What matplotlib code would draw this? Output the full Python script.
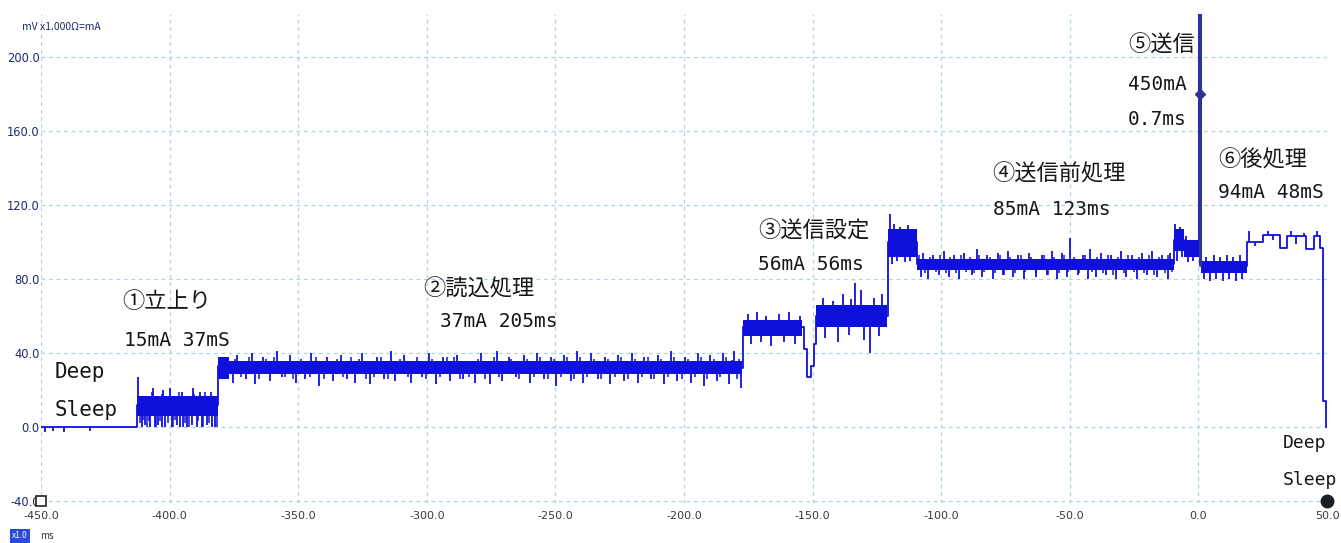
import numpy as np
import matplotlib
matplotlib.use("Agg")
import matplotlib.pyplot as plt

plt.rcParams['font.family'] = ['Noto Sans CJK JP', 'DejaVu Sans']

# ---- current trace (mA) over time (ms) ----
# mean level of the trace, step-wise (value holds until the next time)
step_t = [-450.0, -412.5, -381.0, -377.0, -177.0, -153.5, -152.0, -150.5, -149.5, -148.5,
          -120.5, -109.5, -9.5, -5.5, 0.2, 0.9, 18.9, 25.2, 31.7, 34.4, 42.0, 44.9, 47.3,
          48.5, 49.6, 50.0]
step_v = [0, 12, 33, 32, 54, 42, 27, 33, 45, 60,
          100, 88, 101, 96, 450, 87, 100, 104, 97, 103, 96, 103, 97,
          14, 0, 0]

# dense noise band of each phase
band_start = [-412.5, -381.0, -377.0, -177.0, -148.5, -120.5, -109.5, -9.5, -5.5, 0.9]
band_end   = [-381.0, -377.0, -177.5, -154.0, -121.0, -109.5, -9.5, -5.5, 0.2, 18.9]
band_lo    = [6, 26, 28.5, 49, 54, 92, 85, 95, 92, 83]
band_hi    = [17, 38, 35.5, 58, 66, 107, 91, 107, 101, 90]

# large glitches: time and tip value
spike_t = [-448.5, -445.5, -441.0, -431.0,
           # (1) start-up
           -412.4, -410.8, -409.5, -407.6, -406.5, -405.7, -404.5, -403.1, -402.5, -401.8,
           -399.8, -399.2, -397.2, -396.0, -395.0, -394.7, -393.4, -391.4, -391.0, -389.5,
           -388.0, -387.5, -385.6, -384.0, -383.6, -382.3,
           # (2) reading
           -375.5, -370.2, -366.8, -361.0, -356.4, -350.9, -347.3, -341.8, -336.5, -331.2,
           -327.9, -322.0, -316.6, -312.3, -306.1, -301.7, -296.4, -291.0, -285.8, -281.1,
           -275.3, -270.6, -265.2, -259.9, -254.4, -249.7, -244.1, -239.3, -233.6, -228.8,
           -223.4, -217.9, -213.0, -207.6, -202.8, -197.1, -192.4, -187.0, -182.5, -178.0,
           -373.8, -368.0, -363.5, -358.2, -353.1, -344.9, -338.7, -333.4, -325.1, -319.5,
           -314.0, -308.8, -299.3, -293.7, -288.2, -279.0, -272.9, -268.0, -262.1, -257.2,
           -251.8, -246.6, -241.5, -236.2, -230.7, -225.6, -220.1, -215.4, -210.3, -204.9,
           -199.6, -194.7, -189.9, -184.8, -180.6,
           # (3) transmit setup
           -175.0, -174.0, -171.5, -170.0, -168.0, -166.0, -163.0, -161.0, -159.0, -157.0, -155.0,
           -146.0, -145.0, -142.0, -140.0, -138.0, -136.0, -135.0, -133.5, -131.0, -130.0,
           -127.7, -126.0, -124.0, -123.0,
           -120.0, -119.0, -118.5, -117.0, -116.0, -114.0, -113.0, -112.0, -111.0,
           # (4) pre-transmit processing
           -107, -103, -99, -95, -91, -86, -82, -78, -74, -70, -66, -61, -57, -53, -49.9,
           -45, -42, -38, -34, -30, -26, -22, -18, -14, -11,
           -108, -105, -101, -97, -93, -88, -84, -80, -76, -72, -68, -63, -59, -55, -51,
           -47, -43, -40, -36, -32, -28, -24, -20, -16, -12,
           -9.0, -8.5, -8.0, -7.0, -6.5, -5.0, -4.0, -3.0, -2.0, -1.0,
           # (6) post-processing
           2.0, 3.0, 4.5, 6.0, 7.0, 8.5, 9.5, 11.0, 12.0, 13.5, 14.5, 16.0, 17.0,
           19.5, 22.0, 27.0, 29.0, 36.0, 38.0, 41.0, 46.0]
spike_v = [-2.5, -2, -2.5, -2,
           27, 0, 1, 0, 21, 0, 1, 0, 20, 0,
           21, 0, 1, 0, 19, 0, 0, 1, 21, 0,
           19, 0, 1, 19, 0, 0,
           24, 26, 23, 25, 27, 24, 26, 22, 25, 26,
           24, 23, 26, 25, 24, 27, 23, 25, 26, 24,
           23, 25, 27, 24, 26, 22, 25, 24, 26, 23,
           25, 24, 26, 23, 25, 24, 22, 25, 23, 21,
           39, 40, 38, 41, 39, 40, 38, 39, 40, 38,
           41, 39, 40, 38, 39, 40, 41, 38, 39, 40,
           38, 39, 41, 40, 38, 39, 40, 38, 39, 41,
           38, 40, 39, 40, 41,
           61, 45, 62, 46, 60, 44, 61, 46, 62, 45, 60,
           70, 48, 68, 46, 72, 50, 69, 78, 74, 47,
           40, 70, 49, 72,
           115, 88, 110, 90, 108, 89, 109, 90, 106,
           94, 93, 95, 93, 94, 96, 93, 94, 95, 93, 94, 93, 95, 94, 102,
           93, 96, 94, 93, 95, 93, 94, 95, 93, 94,
           81, 80, 82, 81, 80, 82, 81, 80, 82, 81, 80, 81, 82, 80, 81,
           82, 80, 81, 82, 80, 81, 80, 82, 81, 80,
           110, 90, 104, 108, 92, 103, 89, 101, 90, 99,
           80, 92, 79, 93, 80, 92, 79, 93, 80, 92, 79, 93, 80,
           106, 98, 106, 101, 106, 99, 105, 106]

# small ripple just outside the dense band
ripple_t = [# (1) start-up
            -411.6, -410.2, -408.8, -408.1, -406.9, -405.1, -403.7, -402.9, -400.5, -398.6,
            -398.0, -396.5, -393.9, -392.6, -390.6, -388.8, -386.9, -386.2, -384.8, -381.6,
            # (2) reading
            -374.6, -372.1, -369.0, -365.2, -362.7, -359.4, -355.0, -352.2, -348.8, -345.6,
            -343.0, -339.9, -335.1, -332.4, -329.6, -326.3, -323.5, -320.4, -317.8, -315.2,
            -310.6, -307.4, -304.0, -300.5, -298.0, -294.9, -292.2, -289.6, -286.9, -283.4,
            -280.0, -277.4, -274.0, -271.8, -267.1, -264.0, -261.0, -258.4, -255.8, -253.0,
            -250.6, -247.9, -245.3, -242.8, -240.4, -237.6, -234.8, -232.1, -229.7, -227.0,
            -224.5, -221.6, -218.9, -216.4, -214.1, -211.5, -209.0, -206.2, -203.7, -200.9,
            -198.3, -195.8, -193.5, -191.1, -188.4, -185.9, -183.6, -181.2, -179.5, -178.6,
            # (4) pre-transmit processing
            -108.6, -106.2, -104.4, -102.1, -100.3, -98.2, -96.4, -94.1, -92.3, -90.2,
            -88.8, -87.1, -85.2, -83.3, -81.1, -79.2, -77.3, -75.4, -73.2, -71.3,
            -69.1, -67.4, -65.2, -63.3, -60.2, -58.3, -56.1, -54.2, -52.1, -50.6,
            -48.2, -46.3, -44.1, -41.2, -39.3, -37.2, -35.1, -33.3, -31.2, -29.1,
            -27.3, -25.2, -23.1, -21.2, -19.1, -17.3, -15.2, -13.1, -11.8, -10.2]
ripple_v = [2, 4, 0, 3, 19, 0, 3, 18, 2, 0,
            4, 19, 2, 0, 18, 3, 0, 19, 2, 0,
            37, 27, 38, 26, 37, 38, 27, 26, 37, 27,
            38, 26, 37, 27, 38, 37, 26, 27, 38, 26,
            37, 27, 38, 26, 37, 27, 38, 38, 26, 27,
            37, 26, 38, 27, 37, 26, 37, 27, 38, 26,
            37, 27, 38, 26, 38, 27, 37, 26, 37, 27,
            38, 26, 37, 27, 38, 26, 37, 27, 38, 26,
            37, 27, 38, 26, 37, 27, 38, 36, 26, 37,
            93, 83, 92, 84, 93, 83, 92, 83, 93, 84,
            92, 83, 93, 84, 92, 83, 93, 82, 92, 83,
            93, 84, 92, 83, 93, 82, 92, 83, 93, 84,
            92, 83, 93, 84, 92, 83, 93, 82, 92, 83,
            93, 84, 92, 83, 93, 82, 92, 83, 93, 84]

# transmit burst and its cursor
burst_t = 0.55
burst_peak = 450
cursor_v = 180

x_ticks = [-450, -400, -350, -300, -250, -200, -150, -100, -50, 0, 50]
y_ticks = [-40, 0, 40, 80, 120, 160, 200]

# phase annotations: (text, time, level, size)
notes_cjk = [
    ("①立上り", -418.5, 67.6),
    ("②読込処理", -301.5, 74.6),
    ("③送信設定", -171.2, 106.0),
    ("④送信前処理", -80.2, 136.8),
    ("⑤送信", -27.4, 206.5),
    ("⑥後処理", 7.6, 144.3),
]
notes_latin = [
    ("Deep", -444.6, 29.7, 15), ("Sleep", -444.6, 9.2, 15),
    ("15mA 37mS", -417.7, 47.0, 14),
    ("37mA 205ms", -294.9, 56.8, 14),
    ("56mA 56ms", -171.2, 87.6, 14),
    ("85mA 123ms", -79.9, 117.3, 14),
    ("450mA", -27.4, 184.9, 14), ("0.7ms", -27.4, 166.0, 14),
    ("94mA 48mS", 7.6, 126.5, 14),
    ("Deep", 32.9, -8.6, 13), ("Sleep", 32.9, -28.6, 13),
]

TRACE = '#1010dc'
NAVY = '#2e3590'
GRID = '#a8d5e3'

fig = plt.figure(figsize=(13.41, 5.43), dpi=100)
ax = fig.add_axes([41 / 1341, 1 - 502.85 / 543, 1286 / 1341, 488.4 / 543])
ax.set_xlim(-450, 50)
ax.set_ylim(-41, 223)
for s in ax.spines.values():
    s.set_visible(False)

ax.set_xticks(x_ticks)
ax.set_yticks(y_ticks)
ax.set_xticklabels([f"{v:.1f}" for v in x_ticks], family='DejaVu Sans', fontsize=8, color='#3a3a3a')
ax.set_yticklabels([f"{v:.1f}" for v in y_ticks], family='DejaVu Sans', fontsize=8.3, color='#1d2b6b')
ax.tick_params(axis='both', length=0)
ax.tick_params(axis='y', pad=1)
ax.tick_params(axis='x', pad=6)
ax.grid(True, color=GRID, linestyle=(0, (3, 3)), linewidth=0.9)
ax.set_axisbelow(True)

# noise bands
for s0, s1, lo, hi in zip(band_start, band_end, band_lo, band_hi):
    ax.fill_between([s0, s1], [lo, lo], [hi, hi], color=TRACE, linewidth=0, zorder=3)

# mean level
ax.step(step_t, step_v, where='post', color=TRACE, linewidth=1.3, zorder=4)


def level_at(times):
    st = np.asarray(step_t)
    sv = np.asarray(step_v, dtype=float)
    idx = np.clip(np.searchsorted(st, times, side='right') - 1, 0, len(sv) - 1)
    return sv[idx]


# glitches drawn from the local mean level
ax.vlines(spike_t, level_at(spike_t), spike_v, color=TRACE, linewidth=1.3, zorder=4)
ax.vlines(ripple_t, level_at(ripple_t), ripple_v, color=TRACE, linewidth=1.1, zorder=4)

# transmit burst with cursor
ax.vlines([burst_t], [level_at([0.9])[0]], [burst_peak], color=NAVY, linewidth=2.2, zorder=5)
ax.plot([burst_t], [cursor_v], marker='D', color=NAVY, markersize=5, zorder=6)

# end-point markers
ax.plot([x_ticks[0]], [y_ticks[0]], marker='s', markersize=7, markerfacecolor='white',
        markeredgecolor='#222222', markeredgewidth=1.2, clip_on=False, zorder=6)
ax.plot([x_ticks[-1]], [y_ticks[0]], marker='o', markersize=9, color='#1a1f24', clip_on=False, zorder=6)

for txt, tx, ty in notes_cjk:
    ax.text(tx, ty, txt, fontsize=16, color='#161616', ha='left', va='center', zorder=7)
for txt, tx, ty, fs in notes_latin:
    ax.text(tx, ty, txt, fontsize=fs, color='#161616', ha='left', va='center', zorder=7,
            family=['DejaVu Sans Mono', 'Noto Sans CJK JP'])

fig.text(22 / 1341, 1 - 27 / 543, "mV x1.000Ω=mA", fontsize=7.5, color='#1d2b6b', va='center', ha='left')
fig.text(12 / 1341, 1 - 536 / 543, "x1.0", fontsize=6, color='white', va='center', ha='left',
         bbox=dict(boxstyle='square,pad=0.25', facecolor='#2a4bd7', edgecolor='none'))
fig.text(40 / 1341, 1 - 536 / 543, "ms", fontsize=7, color='#333333', va='center', ha='left')

fig.savefig("out.png", dpi=100, facecolor='white')
